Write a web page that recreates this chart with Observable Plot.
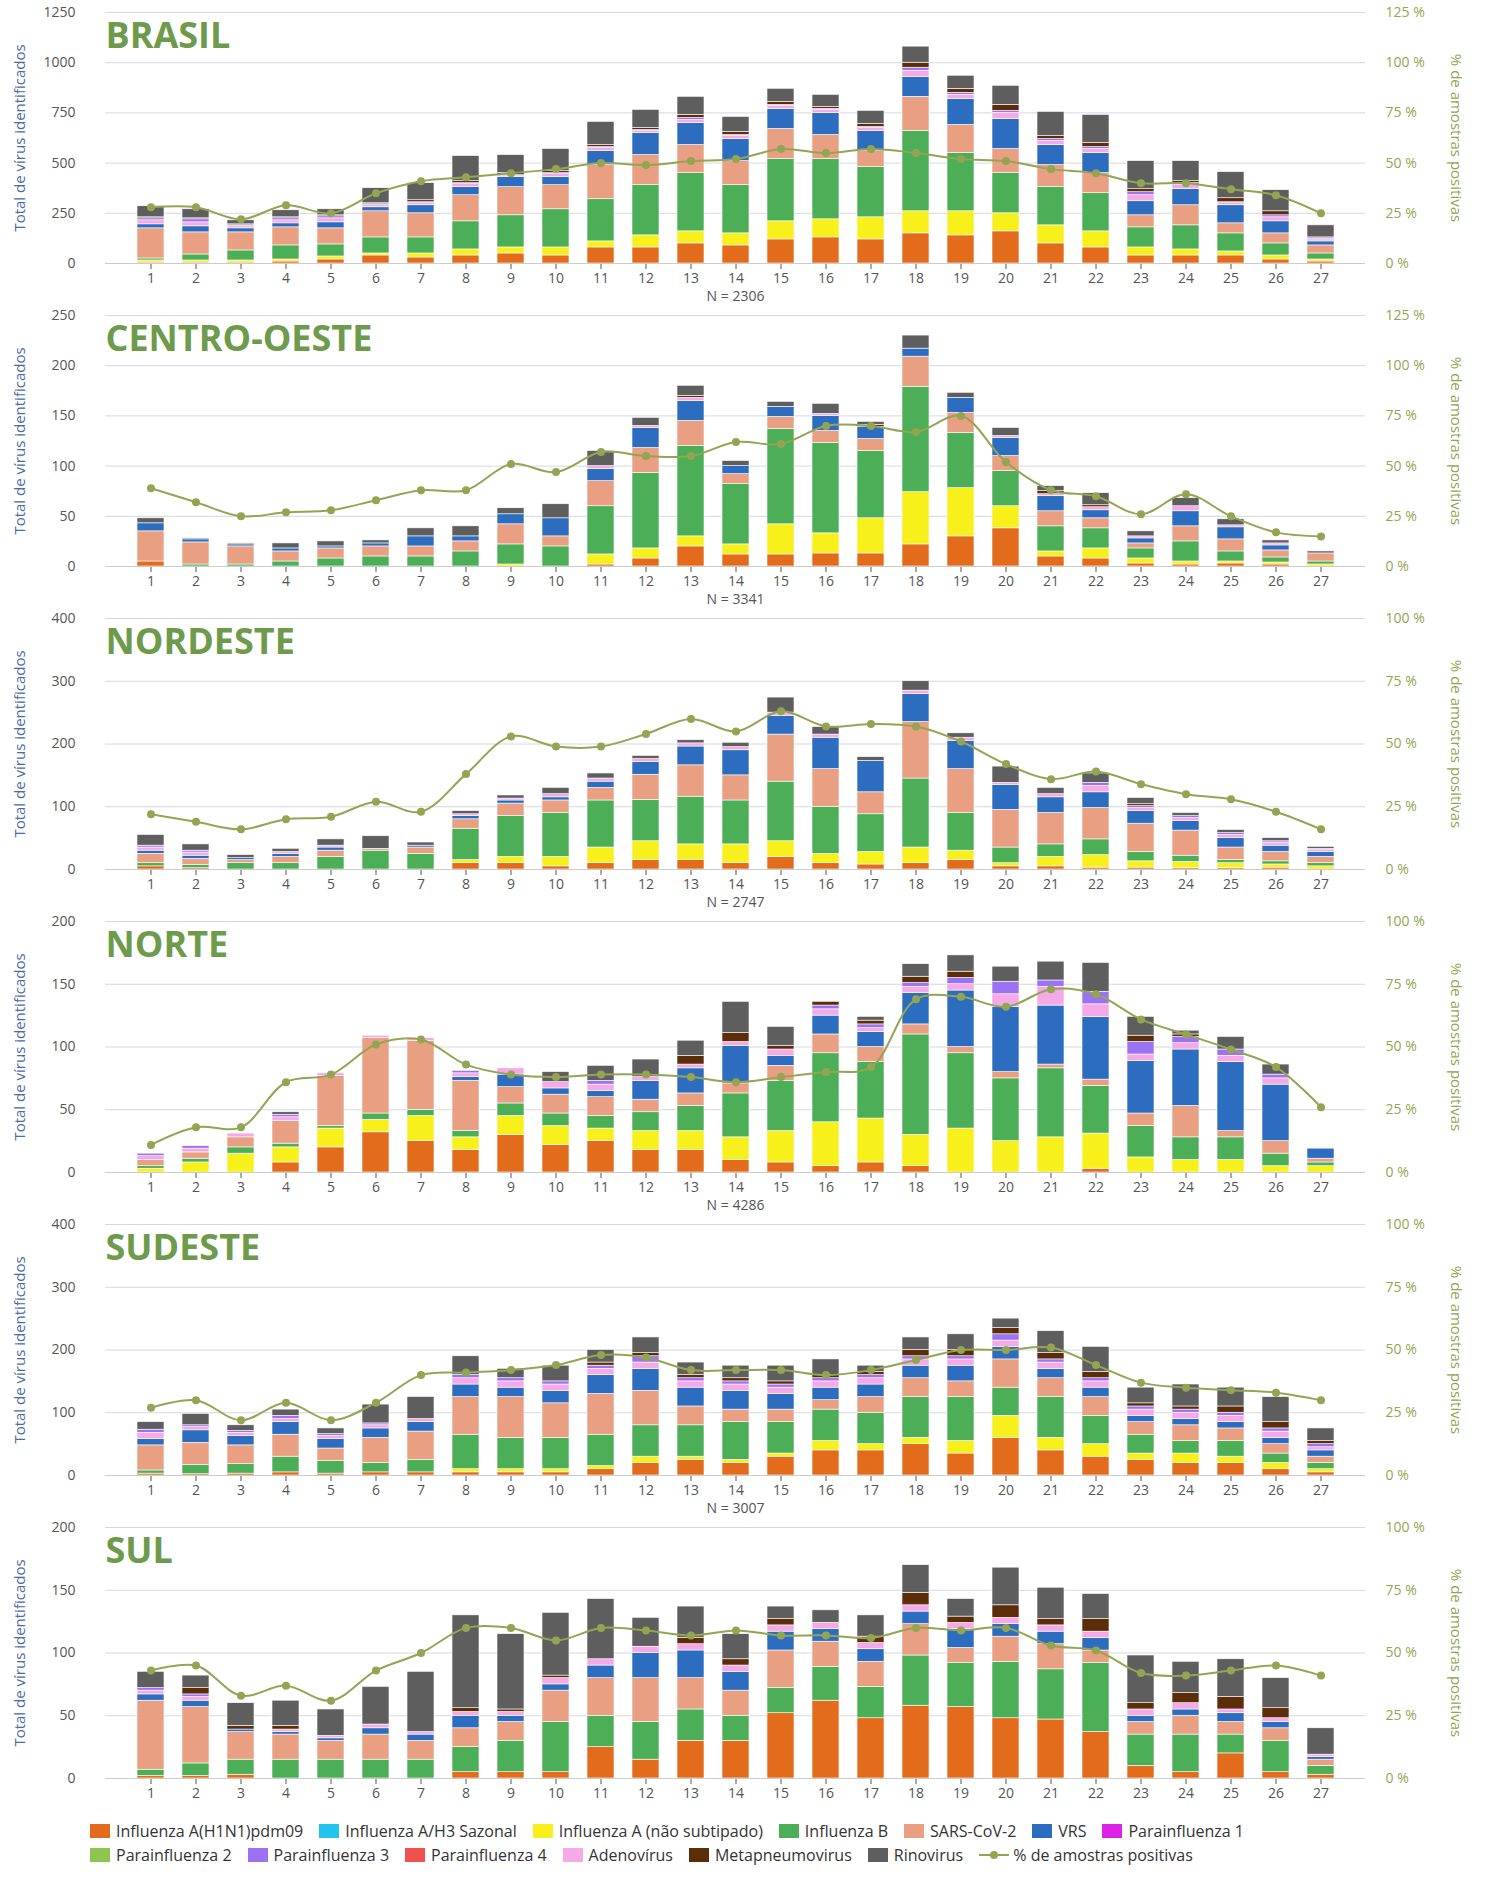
<!DOCTYPE html>
<html><head><meta charset="utf-8">
<script src="https://cdn.jsdelivr.net/npm/d3@7"></script>
<script src="https://cdn.jsdelivr.net/npm/@observablehq/plot@0.6"></script>
<style>
body{margin:0;background:#fff;font-family:"Open Sans",sans-serif;}
#legend{display:flex;flex-wrap:wrap;padding:2px 0 0 90px;font-size:16px;color:#333;width:1300px}
.li{display:flex;align-items:center;margin:0 16px 2px 0}
.sw{width:20px;height:14px;margin-right:6px}
</style></head><body><div id="charts"></div><div id="legend"></div>
<script>
const weeks = d3.range(1, 28);
// column order of each week row
const seriesCols = ["Influenza A(H1N1)pdm09","Influenza A (não subtipado)","Influenza B","SARS-CoV-2","VRS","Adenovírus","Parainfluenza 3","Metapneumovirus","Rinovirus"];
const legendNames = ["Influenza A(H1N1)pdm09","Influenza A/H3 Sazonal","Influenza A (não subtipado)","Influenza B","SARS-CoV-2","VRS","Parainfluenza 1","Parainfluenza 2","Parainfluenza 3","Parainfluenza 4","Adenovírus","Metapneumovirus","Rinovirus"];
const legendColors = ["#e36c1c","#20c4ee","#f7f01a","#4cae57","#e99f82","#2d6dbf","#dd22e6","#8dc64f","#9b72f2","#f0514f","#f5a9e6","#5b2d09","#5e5e5e"];

const brasil = [[5,10,10,150,20,20,10,5,55],[5,10,30,110,30,20,15,5,45],[5,10,50,90,20,10,5,5,20],[10,10,70,90,20,15,10,5,35],[20,15,60,80,30,20,10,5,30],[40,10,80,130,20,10,5,5,75],[30,20,80,120,40,10,5,10,85],[40,30,140,130,40,15,5,10,125],[50,30,160,140,50,5,5,10,90],[40,40,190,120,40,15,5,10,110],[80,30,210,170,70,15,5,10,115],[80,60,250,150,110,10,5,10,90],[100,60,290,140,110,15,10,15,90],[90,60,240,120,110,15,5,15,75],[120,90,310,150,100,15,5,15,65],[130,90,300,120,110,15,5,10,60],[120,110,250,80,100,15,5,15,65],[150,110,400,170,100,30,15,25,80],[140,120,290,140,130,20,10,20,65],[160,90,200,120,150,30,10,30,95],[100,90,190,110,100,20,10,15,120],[80,80,190,100,100,20,10,20,140],[40,40,100,60,70,30,15,15,140],[40,30,120,100,80,20,10,10,100],[40,20,90,50,90,10,5,20,130],[20,20,60,50,60,20,10,20,105],[10,10,30,40,20,10,5,5,60]];
const brasilPct = [28,28,22,29,25,35,41,43,45,47,50,49,51,52,57,55,57,55,52,51,47,45,40,40,37,34,25];

const centroOeste = [[5,0,0,30,8,0,0,0,5],[0,0,2,22,3,0,0,0,1],[0,0,2,18,2,0,0,0,1],[0,0,5,10,3,0,0,0,5],[0,0,8,10,2,0,0,0,5],[0,0,10,10,3,0,0,0,3],[0,0,10,10,10,0,0,0,8],[0,0,15,10,5,0,0,0,10],[0,2,20,20,10,0,0,0,6],[0,0,20,10,18,0,0,0,14],[2,10,48,25,12,3,0,0,15],[8,10,75,25,20,2,0,0,8],[20,10,90,25,20,3,0,2,10],[12,10,60,10,8,0,0,0,5],[12,30,95,12,10,0,0,0,5],[13,20,90,12,15,2,0,0,10],[13,35,67,12,12,0,0,2,3],[22,52,105,30,8,0,0,0,13],[30,48,55,20,15,0,0,0,5],[38,22,35,15,18,2,0,0,8],[10,5,25,15,15,2,0,3,5],[8,10,20,10,8,3,0,2,12],[3,5,10,5,5,2,0,0,5],[2,3,20,15,15,5,0,0,8],[3,2,10,12,12,2,0,0,6],[2,2,5,7,5,2,0,0,3],[0,2,3,8,0,0,0,0,2]];
const centroOestePct = [39,32,25,27,28,33,38,38,51,47,57,55,55,62,61,70,70,67,75,52,38,35,26,36,25,17,15];

const nordeste = [[5,0,5,15,5,5,3,0,17],[2,0,5,10,5,5,3,0,10],[0,0,10,5,3,0,0,0,5],[0,0,10,10,5,3,0,0,5],[0,0,20,10,5,3,0,0,10],[0,0,30,3,0,0,0,0,20],[0,0,25,10,3,0,0,0,5],[10,5,50,15,5,3,0,0,5],[10,10,65,20,5,3,0,0,5],[5,15,70,20,5,5,0,0,10],[10,25,75,20,10,5,0,0,8],[15,30,66,40,20,5,0,0,5],[15,25,76,50,30,5,0,0,5],[10,30,70,40,40,5,0,0,7],[20,25,95,75,30,5,0,0,24],[10,15,75,60,50,5,0,0,12],[8,20,60,35,50,0,0,0,6],[10,25,110,90,45,5,0,0,15],[15,15,60,70,45,5,0,0,7],[5,5,25,60,40,3,0,0,26],[5,15,20,50,25,5,0,0,10],[3,20,25,50,25,10,5,0,15],[3,10,15,45,20,5,3,3,10],[2,10,10,40,15,5,3,0,5],[2,8,5,20,15,5,3,0,5],[3,5,5,15,10,5,2,0,5],[0,5,5,10,8,3,2,0,3]];
const nordestePct = [22,19,16,20,21,27,23,38,53,49,49,54,60,55,63,57,58,57,51,42,36,39,34,30,28,23,16];

const norte = [[0,3,2,5,0,3,2,0,0],[0,8,3,5,0,3,2,0,0],[0,15,5,8,0,3,0,0,0],[8,12,3,18,0,3,2,0,2],[20,15,2,40,0,2,0,0,0],[32,10,5,60,0,2,0,0,0],[25,20,5,55,0,2,0,0,0],[18,10,5,40,3,3,2,0,0],[30,15,10,13,10,5,0,0,0],[22,15,10,15,5,5,0,0,8],[25,10,10,15,5,5,3,0,12],[18,15,15,10,15,3,0,0,14],[18,15,20,10,20,3,0,7,12],[10,18,35,8,30,3,0,7,25],[8,25,40,12,8,5,0,3,15],[5,35,55,15,15,5,3,3,0],[8,35,45,12,12,3,3,3,3],[5,25,80,8,25,5,3,5,10],[0,35,60,5,45,5,5,5,13],[0,25,50,5,52,10,10,0,12],[0,28,55,3,47,15,5,0,15],[3,28,38,5,50,10,10,0,23],[0,12,25,10,42,5,10,5,15],[0,10,18,25,45,5,5,2,3],[0,10,18,5,55,5,5,0,10],[0,5,10,10,45,5,3,0,8],[0,5,3,3,8,0,0,0,0]];
const nortePct = [11,18,18,36,39,51,53,43,39,38,39,39,38,36,38,40,42,69,70,66,73,71,61,55,49,42,26];

const sudeste = [[3,0,5,40,10,10,5,0,12],[2,0,15,35,20,5,3,0,18],[3,0,15,30,15,5,3,0,9],[5,0,25,35,20,5,5,0,10],[3,0,20,20,15,5,3,0,9],[5,0,15,40,15,5,3,0,30],[5,0,20,45,15,5,0,0,35],[5,5,55,60,20,10,5,0,30],[5,5,50,65,15,10,5,0,15],[5,5,50,55,20,10,5,0,25],[10,5,50,65,30,10,5,5,20],[20,10,50,55,35,10,10,5,25],[25,5,50,30,30,10,5,5,20],[20,5,60,20,30,10,5,5,20],[30,5,50,20,25,10,5,5,25],[40,15,50,15,20,10,5,5,25],[40,10,50,25,20,10,5,5,10],[50,10,65,30,20,10,5,10,20],[35,20,70,25,25,10,5,10,25],[60,35,45,45,20,10,10,10,15],[40,20,65,30,15,10,5,10,35],[30,20,45,30,15,10,5,10,40],[25,10,30,20,10,10,5,5,25],[20,15,20,25,10,10,5,5,35],[20,10,25,20,10,10,5,10,30],[10,10,15,15,10,10,5,10,40],[5,5,10,10,10,5,5,5,20]];
const sudestePct = [27,30,22,29,22,29,40,41,42,44,48,47,42,42,42,40,42,46,50,50,51,44,37,35,34,33,30];

const sul = [[2,0,5,55,5,3,2,0,13],[2,0,10,45,5,3,2,5,10],[3,0,12,22,2,0,0,3,18],[0,0,15,20,2,2,0,3,20],[0,0,15,15,2,2,0,0,21],[0,0,15,20,5,3,0,0,30],[0,0,15,15,5,2,0,0,48],[5,0,20,15,10,3,0,3,74],[5,0,25,15,5,3,0,2,60],[5,0,40,25,5,5,0,2,50],[25,0,25,30,10,5,0,0,48],[15,0,30,35,20,5,0,0,23],[30,0,25,25,22,5,0,5,25],[30,0,20,20,15,5,0,5,20],[52,0,20,30,15,5,0,5,10],[62,0,27,20,10,5,0,0,10],[48,0,25,20,10,5,0,5,17],[58,0,40,25,10,5,0,10,22],[57,0,35,12,15,5,0,5,14],[48,0,45,20,10,5,0,10,30],[47,0,40,20,10,5,0,5,25],[37,0,55,10,10,5,0,10,20],[10,0,25,10,5,5,0,5,38],[5,0,30,15,5,5,0,8,25],[20,0,15,10,7,3,0,10,30],[5,0,25,10,5,3,0,8,24],[3,0,7,5,2,2,0,0,21]];
const sulPct = [43,45,33,37,31,43,50,60,60,55,60,59,57,59,57,57,56,60,59,60,53,51,42,41,43,45,41];

const panels = [
  {title:"BRASIL", rows:brasil, pct:brasilPct, max:1250, step:250, pmax:125, n:2306},
  {title:"CENTRO-OESTE", rows:centroOeste, pct:centroOestePct, max:250, step:50, pmax:125, n:3341},
  {title:"NORDESTE", rows:nordeste, pct:nordestePct, max:400, step:100, pmax:100, n:2747},
  {title:"NORTE", rows:norte, pct:nortePct, max:200, step:50, pmax:100, n:4286},
  {title:"SUDESTE", rows:sudeste, pct:sudestePct, max:400, step:100, pmax:100, n:3007},
  {title:"SUL", rows:sul, pct:sulPct, max:200, step:50, pmax:100, n:null}
];
const colorOf = Object.fromEntries(legendNames.map((n,i)=>[n,legendColors[i]]));
const green = "#6e9a4c", pctGreen = "#93a552";

for (const p of panels) {
  const k = p.max / p.pmax;
  const data = [];
  p.rows.forEach((r,i)=>r.forEach((v,j)=>data.push({week:weeks[i], s:seriesCols[j], v})));
  const line = p.pct.map((v,i)=>({week:weeks[i], y:v*k}));
  const ticks = d3.range(0, p.max + 1e-9, p.step);
  const rticks = d3.range(0, p.pmax + 1e-9, 25).map(t=>t*k);
  const chart = Plot.plot({
    width:1495, height:303, marginLeft:105, marginRight:130, marginTop:12, marginBottom:40,
    style:{fontFamily:"Open Sans, sans-serif", fontSize:"14px", color:"#555"},
    x:{type:"band", domain:weeks, padding:0.4, label: p.n ? `N = ${p.n}` : null, labelAnchor:"center", labelOffset:36},
    y:{domain:[0,p.max], ticks, label:null},
    color:{domain:seriesCols, range:seriesCols.map(s=>colorOf[s])},
    marks:[
      Plot.gridY(ticks,{stroke:"#d5d8e0", strokeOpacity:1}),
      Plot.axisX({tickSize:6, tickPadding:4, fontSize:14}),
      Plot.axisY({ticks, tickSize:0, tickPadding:30, fontSize:14, label:null, tickFormat:d3.format("d")}),
      Plot.axisY({anchor:"right", ticks:rticks, tickSize:0, tickPadding:20, tickFormat:d=>`${Math.round(d/k)} %`, fill:pctGreen, label:null}),
      Plot.text(["Total de vírus identificados"],{frameAnchor:"left", rotate:-90, dx:-85, fill:"#4b6aa8", fontSize:15, textAnchor:"middle"}),
      Plot.text(["% de amostras positivas"],{frameAnchor:"right", rotate:90, dx:90, fill:pctGreen, fontSize:15, textAnchor:"middle"}),
      Plot.barY(data, Plot.stackY({x:"week", y:"v", fill:"s", order:seriesCols, stroke:"white", strokeWidth:0.6})),
      Plot.line(line,{x:"week", y:"y", stroke:pctGreen, strokeWidth:2, curve:"catmull-rom"}),
      Plot.dot(line,{x:"week", y:"y", fill:pctGreen, r:4}),
      Plot.ruleY([0],{stroke:"#ccc"}),
      Plot.text([p.title],{frameAnchor:"top-left", dy:10, fill:green, fontSize:36, fontWeight:"bold"})
    ]
  });
  document.getElementById("charts").appendChild(chart);
}
const lg = document.getElementById("legend");
legendNames.forEach(n=>{
  lg.insertAdjacentHTML("beforeend", `<span class="li"><span class="sw" style="background:${colorOf[n]}"></span>${n}</span>`);
});
lg.insertAdjacentHTML("beforeend", `<span class="li"><svg width="30" height="14"><line x1="0" y1="7" x2="30" y2="7" stroke="${pctGreen}" stroke-width="2"/><circle cx="15" cy="7" r="4" fill="${pctGreen}"/></svg>&nbsp;% de amostras positivas</span>`);
</script></body></html>
